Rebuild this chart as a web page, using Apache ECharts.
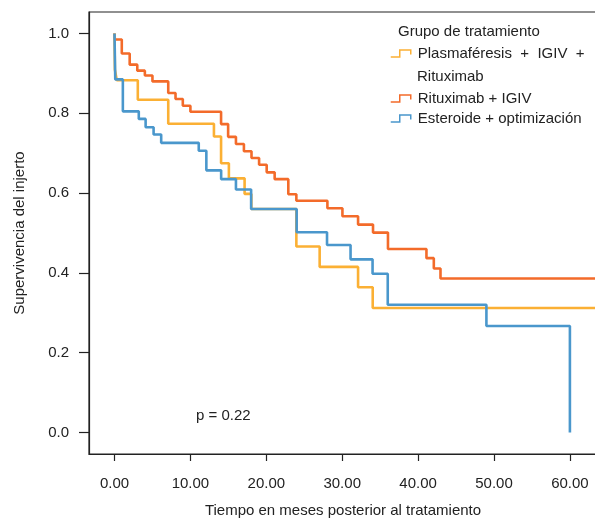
<!DOCTYPE html>
<html>
<head>
<meta charset="utf-8">
<script src="https://cdn.jsdelivr.net/npm/echarts@6/dist/echarts.min.js"></script>
<style>
html,body{margin:0;padding:0;background:#fff;}
#chart{width:595px;height:518px;}
</style>
</head>
<body>
<div id="chart"></div>
<script>
// ---- Data ----
var groupNames = ['Plasmaféresis + IGIV + Rituximab', 'Rituximab + IGIV', 'Esteroide + optimización'];

var timePlas = [0, 0.05, 0.3, 3.07, 7.08, 13.1, 14.04, 15.07, 17.14, 18.03, 23.96, 27.03, 32.09, 34.02, 66];
var survPlas = [1.0, 0.910, 0.883, 0.834, 0.774, 0.742, 0.675, 0.637, 0.598, 0.560, 0.466, 0.415, 0.364, 0.312, 0.312];

var timeRitu = [0, 0.05, 0.96, 2.0, 3.0, 4.0, 5.0, 7.08, 8.04, 9.0, 10.0, 14.04, 14.97, 16.0, 17.05, 18.05, 19.05, 20.05, 21.1, 22.9, 23.96, 28.05, 30.03, 32.09, 34.06, 36.03, 41.1, 42.07, 42.95, 66];
var survRitu = [1.0, 0.985, 0.950, 0.922, 0.907, 0.895, 0.880, 0.851, 0.836, 0.819, 0.804, 0.773, 0.741, 0.723, 0.705, 0.688, 0.671, 0.652, 0.635, 0.597, 0.581, 0.562, 0.542, 0.521, 0.501, 0.460, 0.437, 0.411, 0.386, 0.386];

var timeEste = [0, 0.1, 1.1, 3.2, 4.1, 5.15, 6.15, 11.1, 12.1, 14.05, 16.0, 18.0, 24.0, 28.0, 31.1, 34.0, 36.0, 49.0, 60.0];
var survEste = [1.0, 0.885, 0.805, 0.786, 0.765, 0.747, 0.726, 0.706, 0.657, 0.635, 0.609, 0.560, 0.502, 0.470, 0.434, 0.398, 0.320, 0.267, 0.0];

var xTicks = [0, 10, 20, 30, 40, 50, 60];
var yTicks = [0, 0.2, 0.4, 0.6, 0.8, 1.0];

var xAxisTitle = 'Tiempo en meses posterior al tratamiento';
var yAxisTitle = 'Supervivencia del injerto';
var legendTitle = 'Grupo de tratamiento';
var pValueText = 'p = 0.22';

// ---- Build ----
function pairs(t, s) { return t.map(function (v, i) { return [v, s[i]]; }); }

var colors = ['#fbb034', '#f36b2a', '#4a97cc'];
var font = 'Liberation Sans, Arial, sans-serif';
var txt = '#222';
var stepIcon = 'path://M0,7L9,7L9,0L20,0L20,4.5';

function mkLegend(name, top, color, label) {
  return {
    data: [name], left: 390, top: top, orient: 'vertical', padding: 0,
    icon: stepIcon, itemWidth: 20, itemHeight: 7, itemGap: 0, selectedMode: false,
    itemStyle: { color: 'rgba(0,0,0,0)', borderColor: color, borderWidth: 1.5 },
    textStyle: { fontFamily: font, fontSize: 15, color: txt, padding: [0, 0, 0, 2] },
    formatter: function () { return label; }
  };
}

var chart = echarts.init(document.getElementById('chart'), null, { renderer: 'canvas' });
chart.setOption({
  animation: false,
  backgroundColor: '#fff',
  grid: { left: 89, right: -2, top: 12, bottom: 64, show: true, borderColor: '#222', borderWidth: 1.2,
          containLabel: false, outerBoundsMode: 'none' },
  xAxis: {
    type: 'value', min: -3.36, max: 63.57,
    name: xAxisTitle, nameLocation: 'middle', nameGap: 49,
    nameTextStyle: { fontFamily: font, fontSize: 15, color: txt },
    axisLine: { show: true, onZero: false, lineStyle: { color: '#222', width: 1.2 } },
    axisTick: { show: true, length: 7, customValues: xTicks, lineStyle: { color: '#222', width: 1.2 } },
    axisLabel: { customValues: xTicks, margin: 22, fontFamily: font, fontSize: 15, color: txt,
      formatter: function (v) { return v.toFixed(2); } },
    splitLine: { show: false }
  },
  yAxis: {
    type: 'value', min: -0.054, max: 1.054,
    name: yAxisTitle, nameLocation: 'middle', nameGap: 62, nameRotate: 90,
    nameTextStyle: { fontFamily: font, fontSize: 15, color: txt },
    axisLine: { show: true, onZero: false, lineStyle: { color: '#222', width: 1.2 } },
    axisTick: { show: true, length: 10, customValues: yTicks, lineStyle: { color: '#222', width: 1.2 } },
    axisLabel: { customValues: yTicks, margin: 20, fontFamily: font, fontSize: 15, color: txt,
      formatter: function (v) { return v.toFixed(1); } },
    splitLine: { show: false }
  },
  legend: [
    mkLegend(groupNames[0], 46, colors[0], 'Plasmaféresis  +  IGIV  +'),
    mkLegend(groupNames[1], 91, colors[1], 'Rituximab + IGIV'),
    mkLegend(groupNames[2], 111, colors[2], 'Esteroide + optimización')
  ],
  graphic: [
    { type: 'text', left: 398, top: 24, style: { text: legendTitle, font: '15px ' + font, fill: txt } },
    { type: 'text', left: 417, top: 69, style: { text: 'Rituximab', font: '15px ' + font, fill: txt } },
    { type: 'text', left: 196, top: 408, style: { text: pValueText, font: '15px ' + font, fill: txt } }
  ],
  series: [
    { name: groupNames[1], type: 'line', step: 'end', showSymbol: false, symbol: 'none', z: 2,
      data: pairs(timeRitu, survRitu), lineStyle: { color: colors[1], width: 2.6 }, itemStyle: { color: colors[1] } },
    { name: groupNames[0], type: 'line', step: 'end', showSymbol: false, symbol: 'none', z: 3,
      data: pairs(timePlas, survPlas), lineStyle: { color: colors[0], width: 2.6 }, itemStyle: { color: colors[0] } },
    { name: groupNames[2], type: 'line', step: 'end', showSymbol: false, symbol: 'none', z: 4,
      data: pairs(timeEste, survEste), lineStyle: { color: colors[2], width: 2.6 }, itemStyle: { color: colors[2] } }
  ]
});
</script>
</body>
</html>
